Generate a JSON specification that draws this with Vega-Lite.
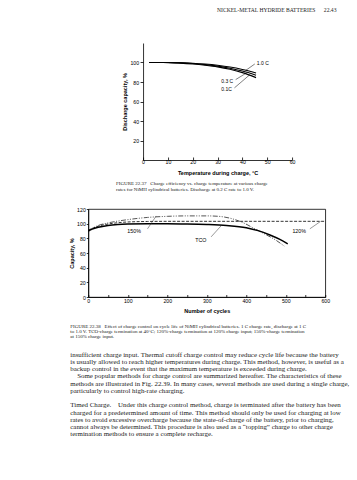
{
  "$schema": "https://vega.github.io/schema/vega-lite/v6.json",
  "background": "white",
  "padding": {"left": 69, "top": 8, "right": 0, "bottom": 0},
  "title": {"text": "NICKEL-METAL HYDRIDE BATTERIES\u00a0\u00a0\u00a0\u00a0\u00a0\u00a022.43", "anchor": "start", "frame": "group", "align": "left", "dx": 129, "font": "Liberation Serif", "fontSize": 5.6, "fontWeight": "normal", "color": "#222222", "offset": 29},
  "datasets": {
    "fig37": [
      {"series": "1.0 C", "temperature": 2.5, "capacity": 100},
      {"series": "1.0 C", "temperature": 10, "capacity": 100},
      {"series": "1.0 C", "temperature": 15, "capacity": 99.8},
      {"series": "1.0 C", "temperature": 20, "capacity": 99.3},
      {"series": "1.0 C", "temperature": 25, "capacity": 98.4},
      {"series": "1.0 C", "temperature": 30, "capacity": 97.1},
      {"series": "1.0 C", "temperature": 35, "capacity": 95.3},
      {"series": "1.0 C", "temperature": 40, "capacity": 92.8},
      {"series": "1.0 C", "temperature": 45.5, "capacity": 89.3},
      {"series": "0.3 C", "temperature": 2.5, "capacity": 100},
      {"series": "0.3 C", "temperature": 10, "capacity": 100},
      {"series": "0.3 C", "temperature": 15, "capacity": 99.6},
      {"series": "0.3 C", "temperature": 20, "capacity": 98.9},
      {"series": "0.3 C", "temperature": 25, "capacity": 97.8},
      {"series": "0.3 C", "temperature": 30, "capacity": 96.3},
      {"series": "0.3 C", "temperature": 35, "capacity": 94.1},
      {"series": "0.3 C", "temperature": 40, "capacity": 91.2},
      {"series": "0.3 C", "temperature": 45.5, "capacity": 87},
      {"series": "0.1 C", "temperature": 2.5, "capacity": 100},
      {"series": "0.1 C", "temperature": 10, "capacity": 99.9},
      {"series": "0.1 C", "temperature": 15, "capacity": 99.4},
      {"series": "0.1 C", "temperature": 20, "capacity": 98.5},
      {"series": "0.1 C", "temperature": 25, "capacity": 97.2},
      {"series": "0.1 C", "temperature": 30, "capacity": 95.5},
      {"series": "0.1 C", "temperature": 35, "capacity": 93},
      {"series": "0.1 C", "temperature": 40, "capacity": 89.6},
      {"series": "0.1 C", "temperature": 45.5, "capacity": 84.5}
    ],
    "fig37labels": [
      {"label": "1.0 C", "tx": 45.8, "ty": 100, "lx1": 41.3, "ly1": 91.8, "lx2": 45, "ly2": 98.5},
      {"label": "0.3 C", "tx": 31.5, "ty": 81.5, "lx1": 37.3, "ly1": 82.5, "lx2": 41.8, "ly2": 89.5},
      {"label": "0.1C", "tx": 31.5, "ty": 73, "lx1": 36.8, "ly1": 74, "lx2": 43, "ly2": 87.5}
    ],
    "fig38": [
      {"series": "TCO", "cycles": 0, "capacity": 90},
      {"series": "TCO", "cycles": 10, "capacity": 92.5},
      {"series": "TCO", "cycles": 25, "capacity": 95},
      {"series": "TCO", "cycles": 50, "capacity": 97.5},
      {"series": "TCO", "cycles": 75, "capacity": 98.8},
      {"series": "TCO", "cycles": 100, "capacity": 99.5},
      {"series": "TCO", "cycles": 150, "capacity": 100},
      {"series": "TCO", "cycles": 200, "capacity": 100},
      {"series": "TCO", "cycles": 250, "capacity": 99.7},
      {"series": "TCO", "cycles": 300, "capacity": 99},
      {"series": "TCO", "cycles": 350, "capacity": 97.6},
      {"series": "TCO", "cycles": 400, "capacity": 94.5},
      {"series": "TCO", "cycles": 430, "capacity": 90.5},
      {"series": "TCO", "cycles": 460, "capacity": 84.5},
      {"series": "TCO", "cycles": 485, "capacity": 78.5},
      {"series": "TCO", "cycles": 505, "capacity": 72.5},
      {"series": "120%", "cycles": 0, "capacity": 91},
      {"series": "120%", "cycles": 10, "capacity": 93.5},
      {"series": "120%", "cycles": 25, "capacity": 96.5},
      {"series": "120%", "cycles": 50, "capacity": 99.5},
      {"series": "120%", "cycles": 75, "capacity": 101.3},
      {"series": "120%", "cycles": 100, "capacity": 102.3},
      {"series": "120%", "cycles": 150, "capacity": 103},
      {"series": "120%", "cycles": 200, "capacity": 103.2},
      {"series": "120%", "cycles": 600, "capacity": 103.2},
      {"series": "150%", "cycles": 0, "capacity": 90.5},
      {"series": "150%", "cycles": 10, "capacity": 93.5},
      {"series": "150%", "cycles": 25, "capacity": 97.5},
      {"series": "150%", "cycles": 50, "capacity": 101},
      {"series": "150%", "cycles": 100, "capacity": 105.5},
      {"series": "150%", "cycles": 150, "capacity": 108.5},
      {"series": "150%", "cycles": 200, "capacity": 110},
      {"series": "150%", "cycles": 250, "capacity": 110.6},
      {"series": "150%", "cycles": 300, "capacity": 110.6},
      {"series": "150%", "cycles": 330, "capacity": 110},
      {"series": "150%", "cycles": 360, "capacity": 107.3},
      {"series": "150%", "cycles": 390, "capacity": 101.8},
      {"series": "150%", "cycles": 420, "capacity": 93.5},
      {"series": "150%", "cycles": 450, "capacity": 85},
      {"series": "150%", "cycles": 475, "capacity": 77.5},
      {"series": "150%", "cycles": 496, "capacity": 69.5}
    ],
    "fig38labels": [
      {"label": "150%", "tx": 116, "ty": 90, "lx1": 150, "ly1": 93, "lx2": 172, "ly2": 110.5},
      {"label": "TCO", "tx": 285, "ty": 77.5, "lx1": 311, "ly1": 82, "lx2": 337, "ly2": 97.5},
      {"label": "120%", "tx": 534, "ty": 90, "lx1": 561, "ly1": 93, "lx2": 588, "ly2": 103}
    ]
  },
  "vconcat": [
    {
      "width": 149,
      "height": 117,
      "title": {
        "text": ["FIGURE 22.37\u00a0\u00a0\u00a0Charge efficiency vs. charge temperature at various charge", "rates for NiMH cylindrical batteries. Discharge at 0.2 C rate to 1.0 V."],
        "orient": "bottom", "anchor": "start", "frame": "group", "align": "left", "dx": -27, "offset": 5,
        "font": "Liberation Serif", "fontSize": 5, "fontWeight": "normal", "lineHeight": 6, "color": "#1a1a1a"
      },
      "layer": [
        {
          "data": {"name": "fig37"},
          "mark": {"type": "line", "color": "black", "strokeWidth": 1.1, "interpolate": "monotone"},
          "encoding": {
            "x": {"field": "temperature", "type": "quantitative", "scale": {"domain": [0, 60], "nice": false},
                  "axis": {"title": "Temperature during charge, °C", "values": [0, 10, 20, 30, 40, 50, 60], "tickCount": 30, "labelOverlap": false, "tickSize": -3, "labelPadding": 2, "titlePadding": 6}},
            "y": {"field": "capacity", "type": "quantitative", "scale": {"domain": [0, 120], "nice": false},
                  "axis": {"title": "Discharge capacity, %", "values": [20, 40, 60, 80, 100], "tickCount": 30, "labelOverlap": false, "tickSize": 3, "labelPadding": 1.5, "titlePadding": 2}},
            "detail": {"field": "series", "type": "nominal"}
          }
        },
        {
          "data": {"name": "fig37labels"},
          "mark": {"type": "rule", "color": "black", "strokeWidth": 0.5},
          "encoding": {
            "x": {"field": "lx1", "type": "quantitative"},
            "y": {"field": "ly1", "type": "quantitative"},
            "x2": {"field": "lx2"},
            "y2": {"field": "ly2"}
          }
        },
        {
          "data": {"name": "fig37labels"},
          "mark": {"type": "text", "align": "left", "baseline": "middle", "font": "Liberation Sans", "fontSize": 5, "color": "black"},
          "encoding": {
            "x": {"field": "tx", "type": "quantitative"},
            "y": {"field": "ty", "type": "quantitative"},
            "text": {"field": "label"}
          }
        }
      ]
    },
    {
      "width": 237,
      "height": 88,
      "view": {"stroke": "black", "strokeWidth": 0.8},
      "title": {
        "text": ["FIGURE 22.38\u00a0\u00a0\u00a0Effect of charge control on cycle life of NiMH cylindrical batteries. 1 C charge rate, discharge at 1 C", "to 1.0 V. TCO-charge termination at 40°C; 120%-charge termination at 120% charge input; 150%-charge termination", "at 150% charge input."],
        "subtitle": ["insufficient charge input. Thermal cutoff charge control may reduce cycle life because the battery", "is usually allowed to reach higher temperatures during charge. This method, however, is useful as a", "backup control in the event that the maximum temperature is exceeded during charge.", "\u200b\u00a0\u00a0\u00a0\u00a0Some popular methods for charge control are summarized hereafter. The characteristics of these", "methods are illustrated in Fig. 22.39. In many cases, several methods are used during a single charge,", "particularly to control high-rate charging.", "\u200b", "Timed Charge.\u00a0\u00a0\u00a0\u00a0Under this charge control method, charge is terminated after the battery has been", "charged for a predetermined amount of time. This method should only be used for charging at low", "rates to avoid excessive overcharge because the state-of-charge of the battery, prior to charging,", "cannot always be determined. This procedure is also used as a “topping” charge to other charge", "termination methods to ensure a complete recharge."],
        "orient": "bottom", "anchor": "start", "frame": "group", "align": "left", "dx": -18, "offset": 10,
        "font": "Liberation Serif", "fontSize": 5, "fontWeight": "normal", "lineHeight": 5, "color": "#1a1a1a",
        "subtitleFont": "Liberation Serif", "subtitleFontSize": 6.9, "subtitleLineHeight": 7.25, "subtitlePadding": 13, "subtitleColor": "#1a1a1a"
      },
      "layer": [
        {
          "data": {"name": "fig38"},
          "transform": [{"filter": "datum.series === '150%'"}],
          "mark": {"type": "line", "color": "#555555", "strokeWidth": 1, "strokeDash": [5, 1.5, 1, 1.5, 1, 1.5], "interpolate": "monotone"},
          "encoding": {
            "x": {"field": "cycles", "type": "quantitative", "scale": {"domain": [0, 600], "nice": false},
                  "axis": {"title": "Number of cycles", "values": [0, 50, 100, 150, 200, 250, 300, 350, 400, 450, 500, 550, 600], "tickCount": 30, "labelExpr": "datum.value % 100 === 0 ? datum.label : ''", "labelOverlap": false, "tickSize": -2.5, "labelPadding": 3.5, "titlePadding": 5}},
            "y": {"field": "capacity", "type": "quantitative", "scale": {"domain": [0, 120], "nice": false},
                  "axis": {"title": "Capacity, %", "values": [0, 20, 40, 60, 80, 100, 120], "tickCount": 30, "labelOverlap": false, "tickSize": 2, "labelPadding": 1, "titlePadding": 2}}
          }
        },
        {
          "data": {"name": "fig38"},
          "transform": [{"filter": "datum.series === '120%'"}],
          "mark": {"type": "line", "color": "black", "strokeWidth": 0.8, "strokeDash": [3, 1.5], "interpolate": "monotone"},
          "encoding": {
            "x": {"field": "cycles", "type": "quantitative"},
            "y": {"field": "capacity", "type": "quantitative"}
          }
        },
        {
          "data": {"name": "fig38"},
          "transform": [{"filter": "datum.series === 'TCO'"}],
          "mark": {"type": "line", "color": "black", "strokeWidth": 1.5, "interpolate": "monotone"},
          "encoding": {
            "x": {"field": "cycles", "type": "quantitative"},
            "y": {"field": "capacity", "type": "quantitative"}
          }
        },
        {
          "data": {"name": "fig38labels"},
          "mark": {"type": "rule", "color": "#333333", "strokeWidth": 0.5},
          "encoding": {
            "x": {"field": "lx1", "type": "quantitative"},
            "y": {"field": "ly1", "type": "quantitative"},
            "x2": {"field": "lx2"},
            "y2": {"field": "ly2"}
          }
        },
        {
          "data": {"name": "fig38labels"},
          "mark": {"type": "text", "align": "center", "baseline": "middle", "font": "Liberation Sans", "fontSize": 5.3, "color": "black"},
          "encoding": {
            "x": {"field": "tx", "type": "quantitative"},
            "y": {"field": "ty", "type": "quantitative"},
            "text": {"field": "label"}
          }
        }
      ]
    }
  ],
  "spacing": 14,
  "center": true,
  "config": {
    "view": {"stroke": null},
    "axis": {"grid": false, "labelOverlap": false, "labelFlush": false, "labelBound": false, "domainColor": "black", "domainWidth": 0.8, "tickColor": "black", "tickWidth": 0.8, "labelColor": "black", "labelFont": "Liberation Sans", "labelFontSize": 5.2, "titleFont": "Liberation Sans", "titleFontSize": 5.5, "titleFontWeight": "bold", "titleColor": "black"}
  }
}
